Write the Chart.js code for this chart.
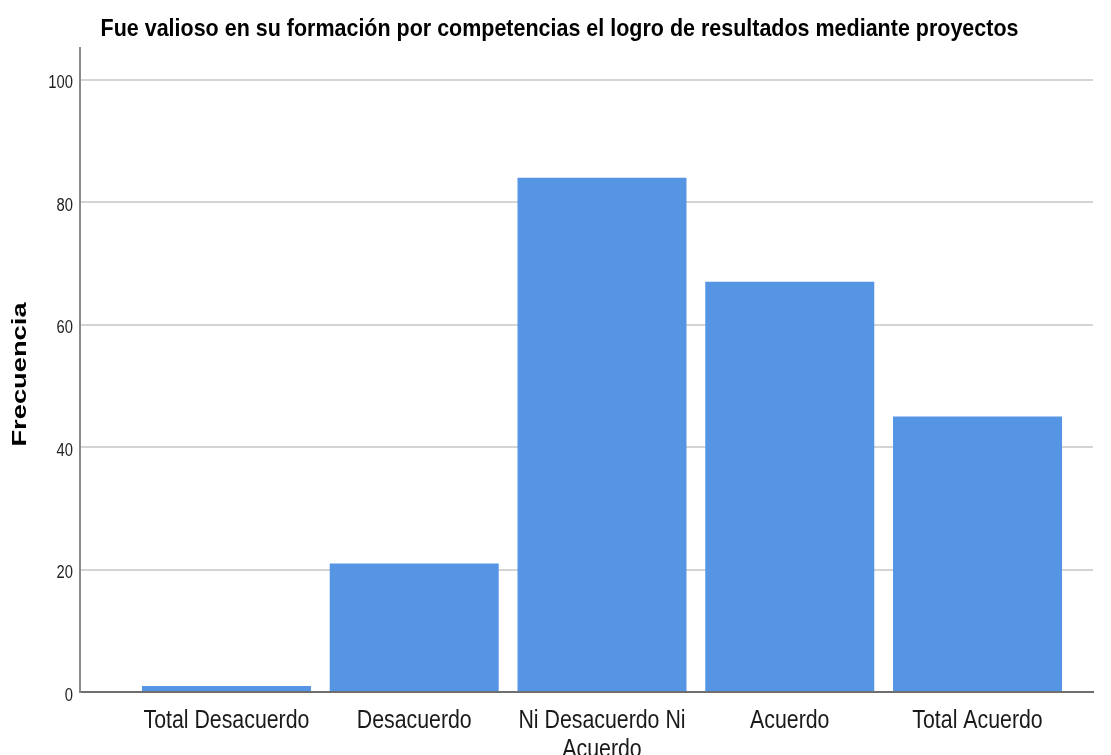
<!DOCTYPE html>
<html>
<head>
<meta charset="utf-8">
<script src="https://cdn.jsdelivr.net/npm/chart.js@4"></script>
<style>
  html, body { margin: 0; padding: 0; background: #fff; }
  #wrap { width: 1111px; height: 755px; }
</style>
</head>
<body>
<div id="wrap"><canvas id="frecuencia_chart" width="1111" height="755"></canvas></div>
<script>
// タイトル
const chartTitle = 'Fue valioso en su formación por competencias el logro de resultados mediante proyectos';
const yTitle = 'Frecuencia';
// カテゴリ
const categories = ['Total Desacuerdo', 'Desacuerdo', ['Ni Desacuerdo Ni', 'Acuerdo'], 'Acuerdo', 'Total Acuerdo'];
// 度数
const frecuencias = [1, 21, 84, 67, 45];
// 目盛り
const yTicks = [0, 20, 40, 60, 80, 100];

const sans = "'Liberation Sans', Arial, sans-serif";

// 横方向に縮めた文字を描く (Arial Narrow の代わり)
function drawText(c, text, x, y, font, sx, color, align) {
    c.save();
    c.translate(x, y);
    c.scale(sx, 1);
    c.font = font;
    c.fillStyle = color;
    c.textAlign = align;
    c.textBaseline = 'alphabetic';
    c.fillText(text, 0, 0);
    c.restore();
}

// 文字の描画プラグイン
const narrowTextPlugin = {
    id: 'narrowText',
    afterDraw: function(chart) {
        const c = chart.ctx;
        const xs = chart.scales.x;
        const ys = chart.scales.y;
        // タイトル
        drawText(c, chartTitle, 559.5, 36, 'bold 24px ' + sans, 0.895, '#000', 'center');
        // X軸ラベル
        categories.forEach(function(label, i) {
            const lines = Array.isArray(label) ? label : [label];
            const px = xs.getPixelForValue(i);
            lines.forEach(function(line, j) {
                drawText(c, line, px, 728 + j * 29, '26px ' + sans, 0.82, '#1a1a1a', 'center');
            });
        });
        // Y軸目盛り
        yTicks.forEach(function(v) {
            drawText(c, String(v), 73, ys.getPixelForValue(v) + 8.5, '18px ' + sans, 0.82, '#222', 'right');
        });
        // Y軸タイトル
        c.save();
        c.translate(26, 374.5);
        c.rotate(-Math.PI / 2);
        c.scale(1.3, 1);
        c.font = 'bold 21px ' + sans;
        c.fillStyle = '#000';
        c.textAlign = 'center';
        c.textBaseline = 'alphabetic';
        c.fillText(yTitle, 0, 0);
        c.restore();
    }
};

// 棒グラフ用のデータ (x はカテゴリ番号)
const points = frecuencias.map(function(v, i) { return { x: i, y: v }; });

const ctx = document.getElementById('frecuencia_chart').getContext('2d');
new Chart(ctx, {
    type: 'bar',
    data: {
        datasets: [{
            data: points,
            backgroundColor: 'rgb(85, 149, 227)',
            borderWidth: 0,
            barPercentage: 0.9,
            categoryPercentage: 1.0
        }]
    },
    plugins: [narrowTextPlugin],
    options: {
        responsive: false,
        animation: false,
        layout: { padding: { left: 0, right: 18, top: 48, bottom: 0 } },
        plugins: {
            legend: { display: false },
            tooltip: { enabled: false },
            title: { display: false }
        },
        scales: {
            x: {
                type: 'linear',
                offset: false,
                min: -0.78,
                max: 4.615,
                afterBuildTicks: function(axis) {
                    axis.ticks = categories.map(function(c, i) { return { value: i }; });
                },
                afterFit: function(axis) { axis.height = 63; },
                ticks: { display: false },
                grid: { display: false, drawTicks: false },
                border: { display: true, color: '#6e6e6e', width: 2 }
            },
            y: {
                min: 0,
                max: 105.2,
                afterBuildTicks: function(axis) {
                    axis.ticks = yTicks.map(function(v) { return { value: v }; });
                },
                afterFit: function(axis) { axis.width = 80; },
                ticks: { display: false },
                grid: { color: '#d4d4d4', lineWidth: 2, drawTicks: false },
                border: { display: true, color: '#8a8a8a', width: 2 }
            }
        }
    }
});
</script>
</body>
</html>
